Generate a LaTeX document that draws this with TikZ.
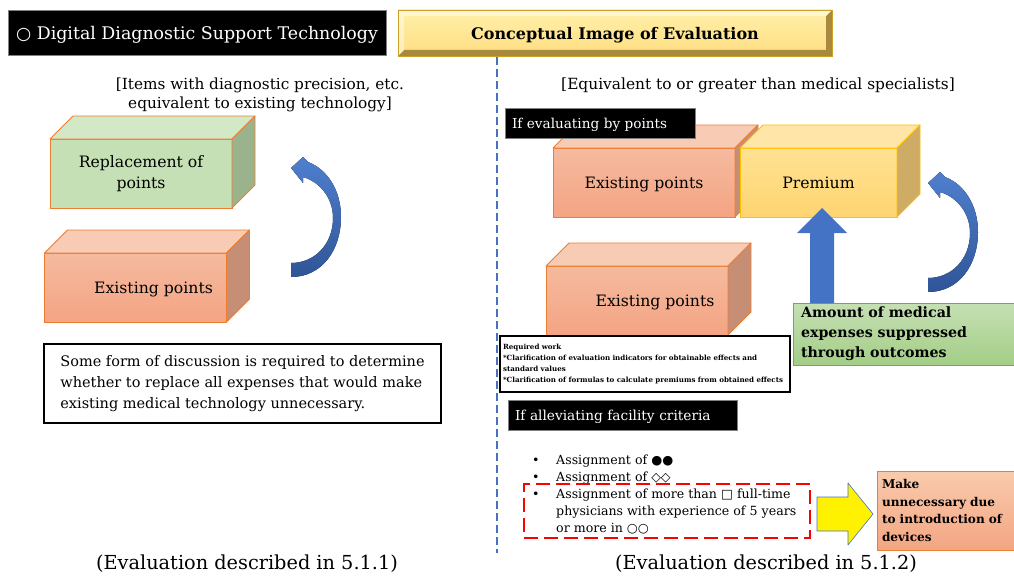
\documentclass[tikz,border=0pt]{standalone}
\usepackage{fontspec}
\setmainfont{DejaVu Serif}
\newfontfamily\symf{DejaVu Sans}
\usetikzlibrary{arrows.meta,positioning,calc,shapes.arrows}

\definecolor{edgeorange}{HTML}{ED7D31}
\definecolor{orangetop}{HTML}{F8CBB4}
\definecolor{orangefronta}{HTML}{F5BA9F}
\definecolor{orangefrontb}{HTML}{F4A483}
\definecolor{orangeside}{HTML}{C78E76}
\definecolor{greenfront}{HTML}{C5E0B4}
\definecolor{greentop}{HTML}{D3E8C6}
\definecolor{greenside}{HTML}{9BB38C}
\definecolor{premfronta}{HTML}{FFE294}
\definecolor{premfrontb}{HTML}{FFD470}
\definecolor{premtop}{HTML}{FFE6A8}
\definecolor{premside}{HTML}{CFAC66}
\definecolor{premedge}{HTML}{FFC000}
\definecolor{arrowblue}{HTML}{4472C4}
\definecolor{arrowlight}{HTML}{4F7FCF}
\definecolor{arrowdark}{HTML}{2F5597}
\definecolor{goldtop}{HTML}{FFF0AA}
\definecolor{goldbot}{HTML}{FFDD80}
\definecolor{goldshade}{HTML}{A8893E}
\definecolor{golddeep}{HTML}{C9A227}
\definecolor{amountgreena}{HTML}{C5E0B4}
\definecolor{amountgreenb}{HTML}{A3CE86}
\definecolor{amountedge}{HTML}{70AD47}
\definecolor{makeorangea}{HTML}{F8CBAD}
\definecolor{makeorangeb}{HTML}{F4A582}

% top and right faces of a box drawn behind its front node
\newcommand\cubeback[4]{%
  \filldraw[draw=#4, line width=0.8pt, line join=round, fill=#2] (#1.north west) -- ([shift={(23,-23)}]#1.north west) -- ([shift={(23,-23)}]#1.north east) -- (#1.north east) -- cycle;
  \filldraw[draw=#4, line width=0.8pt, line join=round, fill=#3] (#1.north east) -- ([shift={(23,-23)}]#1.north east) -- ([shift={(23,-23)}]#1.south east) -- (#1.south east) -- cycle;}

\tikzset{
  bendarrow/.pic={
    \fill[top color=arrowlight, bottom color=arrowdark] (0,109) .. controls (31,109) and (50,82) .. (50,49) .. controls (50,22) and (36,1) .. (17,-6) -- (12,-11) -- (0,0) -- (12,15) -- (12,9) .. controls (29,14) and (42,30) .. (42,50) .. controls (42,76) and (24,95) .. (0,95) -- cycle;
  }
}

\begin{document}
\begin{tikzpicture}[x=1pt, y=-1pt,
    cubefront/.style={rectangle, draw=#1, line width=0.8pt, inner sep=0pt, outer sep=0pt, minimum width=182pt, minimum height=69pt, font=\fontsize{15.7}{21}\selectfont},
    blacklabel/.style={rectangle, fill=black, draw=gray, text=white, inner xsep=7pt, inner ysep=0pt, outer sep=0pt, align=left},
    framebox/.style={rectangle, draw=black, fill=white, line width=2pt, inner sep=0pt, outer sep=0pt, align=left},
    caption/.style={font=\fontsize{19.3}{22}\selectfont},
]
    \useasboundingbox (0,0) rectangle (1014,578);

    % headings
    \node[blacklabel, minimum width=378pt, minimum height=45pt, align=center, text depth=0pt, font=\fontsize{17.4}{20}\selectfont] (title) at (197,32.5) {{\symf ○} Digital Diagnostic Support Technology};
    \node[rectangle, draw=golddeep, line width=0.8pt, top color=goldtop, bottom color=goldbot, minimum width=434pt, minimum height=46pt, inner sep=0pt, outer sep=0pt, text depth=0pt, font=\bfseries\fontsize{16}{19}\selectfont,
        path picture={
            \fill[goldshade] (path picture bounding box.south west) -- (path picture bounding box.south east) -- (path picture bounding box.north east) -- ([shift={(-6,6)}]path picture bounding box.north east) -- ([shift={(-6,-6)}]path picture bounding box.south east) -- ([shift={(6,-6)}]path picture bounding box.south west) -- cycle;
            \fill[white, opacity=0.45] (path picture bounding box.north west) -- (path picture bounding box.north east) -- ([shift={(-6,6)}]path picture bounding box.north east) -- ([shift={(6,6)}]path picture bounding box.north west) -- ([shift={(6,-6)}]path picture bounding box.south west) -- (path picture bounding box.south west) -- cycle;
        }] (concept) at (615,33) {Conceptual Image of Evaluation};

    \coordinate (divtop) at (497,57);
    \coordinate (divbot) at (497,553);
    \draw[arrowblue, line width=1.6pt, dash pattern=on 8pt off 4pt] (divtop) -- (divbot);

    % left half
    \node[align=center, font=\fontsize{15.3}{18.5}\selectfont] (leftsub) at (260,95) {[Items with diagnostic precision, etc.\\equivalent to existing technology]};

    \node[cubefront=edgeorange, fill=greenfront, align=center] (replace) at (141,173.5) {Replacement of\\points};
    \cubeback{replace}{greentop}{greenside}{edgeorange}

    \node[cubefront=edgeorange, text depth=0pt, top color=orangefronta, bottom color=orangefrontb] (existleft) at (135.5,287.5) {\hspace*{36pt}Existing points};
    \cubeback{existleft}{orangetop}{orangeside}{edgeorange}

    \pic at (291,168) {bendarrow};

    \node[framebox, minimum width=397pt, minimum height=79pt, font=\fontsize{14.5}{21}\selectfont] (discuss) at (242.5,383.5) {Some form of discussion is required to determine\\whether to replace all expenses that would make\\existing medical technology unnecessary.};

    \node[caption] (capleft) at (247,564) {(Evaluation described in 5.1.1)};

    % right half
    \node[font=\fontsize{15.4}{18.5}\selectfont] (rightsub) at (758,85) {[Equivalent to or greater than medical specialists]};

    \node[cubefront=edgeorange, text depth=0pt, top color=orangefronta, bottom color=orangefrontb] (existtop) at (644,182.5) {Existing points};
    \cubeback{existtop}{orangetop}{orangeside}{edgeorange}
    \node[cubefront=premedge, text depth=0pt, minimum width=157pt, top color=premfronta, bottom color=premfrontb] (premium) at (818.5,182.5) {Premium};
    \cubeback{premium}{premtop}{premside}{premedge}

    \node[blacklabel, minimum height=30pt, text width=176pt, text depth=0pt, font=\fontsize{13.6}{15}\selectfont] (bypoints) at (600,123) {If evaluating by points};

    \node[rectangle, draw=amountedge, line width=0.8pt, top color=amountgreena, bottom color=amountgreenb, minimum width=221pt, minimum height=62pt, text width=205pt, inner xsep=8pt, inner ysep=0pt, outer sep=0pt, align=left, font=\bfseries\fontsize{14.2}{20}\selectfont] (amount) at (903.5,334) {Amount of medical\\expenses suppressed\\through outcomes};

    % upward block arrow from the suppressed amount to the premium
    \coordinate (uptip) at (822,208);
    \coordinate (upbase) at (uptip |- amount.north);
    \fill[arrowblue] ($(upbase)+(-12,0)$) -- ($(upbase)+(12,0)$) -- ($(uptip)+(12,25)$) -- ($(uptip)+(25,25)$) -- (uptip) -- ($(uptip)+(-25,25)$) -- ($(uptip)+(-12,25)$) -- cycle;

    \pic at (928,183) {bendarrow};

    \node[cubefront=edgeorange, text depth=0pt, top color=orangefronta, bottom color=orangefrontb] (existlow) at (637,300.5) {\hspace*{36pt}Existing points};
    \cubeback{existlow}{orangetop}{orangeside}{edgeorange}

    \node[framebox, minimum width=290pt, minimum height=56pt, text width=284pt, inner xsep=3pt, font=\bfseries\fontsize{7.1}{10.7}\selectfont] (reqwork) at (645,364) {Required work\\{}*Clarification of evaluation indicators for obtainable effects and\\standard values\\{}*Clarification of formulas to calculate premiums from obtained effects};

    \node[blacklabel, minimum height=30pt, text width=215pt, text depth=0pt, font=\fontsize{13.7}{15}\selectfont] (facility) at (622.5,415) {If alleviating facility criteria};

    \node[anchor=north west, inner sep=0pt, align=left, font=\fontsize{12.6}{17}\selectfont] (assign) at (532,455) {\makebox[24pt][l]{•}Assignment of {\symf ●●}\\\makebox[24pt][l]{•}Assignment of {\symf ◇◇}\\\makebox[24pt][l]{•}Assignment of more than {\symf □} full-time\\\hspace*{24pt}physicians with experience of 5 years\\\hspace*{24pt}or more in {\symf ○○}};

    \node[rectangle, draw=red, line width=2.5pt, dash pattern=on 14pt off 6pt, minimum width=286pt, minimum height=54pt, inner sep=0pt, outer sep=0pt] (dashbox) at (667,511) {};

    \node[rectangle, draw=edgeorange, line width=0.8pt, top color=makeorangea, bottom color=makeorangeb, minimum width=137pt, minimum height=79pt, text width=127pt, inner xsep=5pt, inner ysep=0pt, outer sep=0pt, align=left, font=\bfseries\fontsize{12.1}{17.6}\selectfont] (makeunnec) at (945.5,510.5) {Make\\unnecessary due\\to introduction of\\devices};

    % block arrow from the dashed item to the result
    \coordinate (yeltip) at (873,514);
    \coordinate (yelbase) at ([xshift=7pt]dashbox.east |- yeltip);
    \filldraw[fill=yellow, draw=arrowblue, line width=0.6pt, line join=round] ($(yelbase)+(0,-17)$) -- ($(yeltip)+(-25,-17)$) -- ($(yeltip)+(-25,-31)$) -- (yeltip) -- ($(yeltip)+(-25,31)$) -- ($(yeltip)+(-25,17)$) -- ($(yelbase)+(0,17)$) -- cycle;

    \node[caption] (capright) at (766,564) {(Evaluation described in 5.1.2)};
\end{tikzpicture}
\end{document}
